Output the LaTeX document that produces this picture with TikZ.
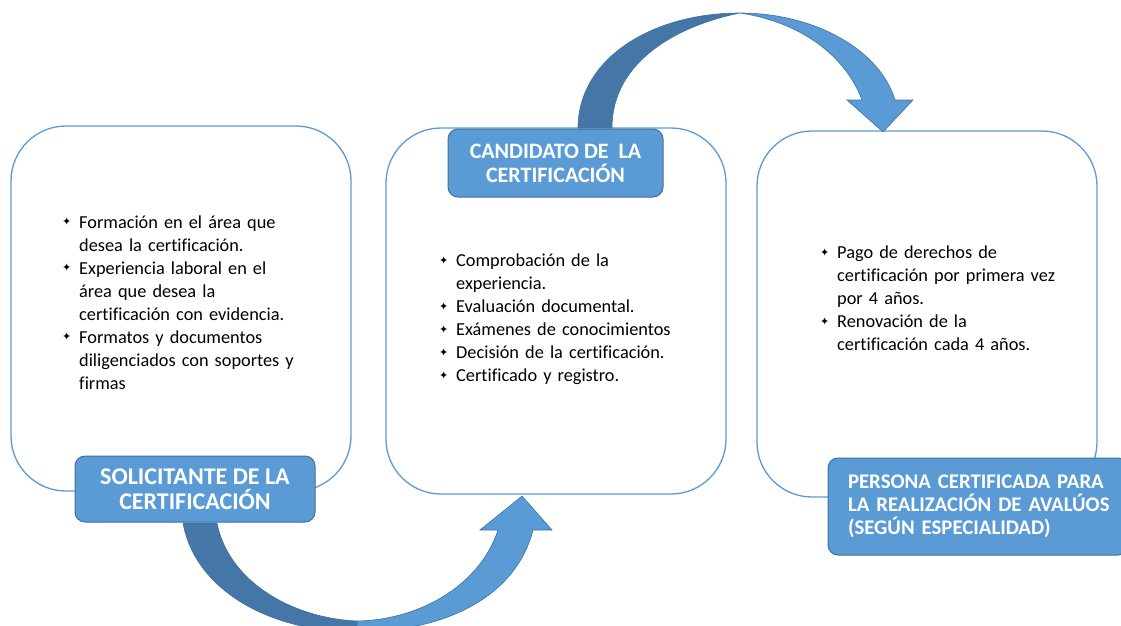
\documentclass[tikz,border=0pt]{standalone}
\usepackage{fontspec}
\setmainfont{Carlito}[Ligatures=NoCommon]
\newfontfamily\symfont{DejaVu Sans}
\usetikzlibrary{arrows}
\definecolor{boxblue}{HTML}{5B9BD5}
\definecolor{edgeblue}{HTML}{41719C}
\definecolor{darkblue}{HTML}{4476A8}

\newcommand{\itm}[1]{\noindent\hangindent=17pt\hangafter=1\makebox[17pt][l]{\raisebox{2.5pt}{\symfont\fontsize{11}{11}\selectfont ✦}}#1\par}

\begin{document}
\begin{tikzpicture}[x=1pt, y=-1pt, >=stealth]
		\tikzstyle{panel} = [draw=boxblue, line width=1.3pt, rounded corners=55pt, fill=white, inner sep=0pt]
		\tikzstyle{tag} = [draw=edgeblue, line width=1pt, rounded corners=10pt, fill=boxblue, text=white, align=center, inner sep=0pt]
		\tikzstyle{bullets} = [text width=260pt, align=left, inner sep=0pt, font=\fontsize{18.3}{23}\selectfont]
		\tikzstyle{backarrow} = [fill=darkblue, draw=edgeblue, line width=0.6pt]
		\tikzstyle{frontarrow} = [fill=boxblue, draw=edgeblue, line width=0.6pt]

		\useasboundingbox (0,0) rectangle (1121,625);

		% panels
		\node[panel, minimum width=340pt, minimum height=365pt] (solbox) at (181,308.5) {};
		\node[panel, minimum width=340pt, minimum height=366pt] (candbox) at (556,311) {};
		\node[panel, minimum width=340pt, minimum height=366pt] (persbox) at (927,314) {};

		% curved arrows
		\coordinate (tipA) at (522,496);
		\coordinate (tipB) at (883,132);
		\draw[backarrow] (183,523) .. controls (195,590) and (270,632) .. (357,632)
			-- (357,621) .. controls (290,618) and (228,580) .. (217,523) -- cycle;
		\draw[frontarrow] (357,632) .. controls (440,632) and (515,600) .. (533,530)
			-- (552,530) -- (tipA) -- (480,530) -- (498,530)
			.. controls (480,585) and (420,620) .. (357,621) -- cycle;
		\draw[backarrow] (578,128) .. controls (578,60) and (650,13) .. (740,13)
			.. controls (680,25) and (612,60) .. (612,128) -- cycle;
		\draw[frontarrow] (740,13) .. controls (815,13) and (880,50) .. (895,100)
			-- (913,100) -- (tipB) -- (847,100) -- (862,100)
			.. controls (845,55) and (800,22) .. (740,13) -- cycle;

		% titles
		\node[tag, minimum width=240pt, minimum height=66pt, font=\bfseries\fontsize{24}{25}\selectfont] (sol) at (195,489) {SOLICITANTE DE LA\\CERTIFICACIÓN};
		\node[tag, minimum width=215pt, minimum height=68pt, font=\bfseries\fontsize{22}{24}\selectfont] (cand) at (555.5,163) {CANDIDATO DE\ \ LA\\CERTIFICACIÓN};
		\node[tag, minimum width=300pt, minimum height=97pt, text width=260pt, align=left, font=\bfseries\fontsize{20.8}{23}\selectfont] (pers) at (978,506.5) {\makebox[\linewidth][s]{PERSONA CERTIFICADA PARA}\\\makebox[\linewidth][s]{LA REALIZACIÓN DE AVALÚOS}\\(SEGÚN ESPECIALIDAD)};

		% item lists
		\node[bullets, anchor=base west] (soltext) at (62,228) {\itm{Formación en el área que\newline desea la certificación.}\itm{Experiencia laboral en el\newline área que desea la\newline certificación con evidencia.}\itm{Formatos y documentos\newline diligenciados con soportes y\newline firmas}};
		\node[bullets, anchor=base west] (candtext) at (439,266.5) {\itm{Comprobación de la\newline experiencia.}\itm{Evaluación documental.}\itm{Exámenes de conocimientos}\itm{Decisión de la certificación.}\itm{Certificado y registro.}};
		\node[bullets, anchor=base west] (perstext) at (820,258.5) {\itm{Pago de derechos de\newline certificación por primera vez\newline por 4 años.}\itm{Renovación de la\newline certificación cada 4 años.}};
\end{tikzpicture}
\end{document}
